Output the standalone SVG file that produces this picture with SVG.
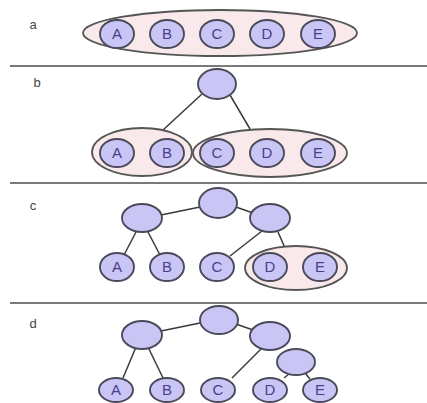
<svg xmlns="http://www.w3.org/2000/svg" width="427" height="403" viewBox="0 0 427 403">
<style>
.bg{fill:#ffffff}
.sep{stroke:#7a7a7a;stroke-width:2}
.lab{font-family:"Liberation Sans",Arial,sans-serif;font-size:13px;fill:#444444;text-anchor:middle}
.grp{fill:#f9e9ea;stroke:#555555;stroke-width:1.8}
.node{fill:#c9c6f6;stroke:#4a4a5a;stroke-width:1.9}
.txt{font-family:"Liberation Sans",Arial,sans-serif;font-size:15px;fill:#4a3f8a;text-anchor:middle}
.edge{stroke:#3a3a3a;stroke-width:1.5;fill:none}
</style>
<rect class="bg" x="0" y="0" width="427" height="403"/>
<g id="separators">
<line class="sep" x1="10" y1="66" x2="427" y2="66"/>
<line class="sep" x1="10" y1="183" x2="427" y2="183"/>
<line class="sep" x1="10" y1="303" x2="427" y2="303"/>
</g>
<g id="labels">
<text class="lab" x="33" y="29">a</text>
<text class="lab" x="37" y="87">b</text>
<text class="lab" x="33" y="210">c</text>
<text class="lab" x="33" y="328">d</text>
</g>
<g id="connectors">
<line class="edge" x1="202" y1="94" x2="163" y2="130"/>
<line class="edge" x1="230" y1="95" x2="250" y2="129"/>
<line class="edge" x1="161" y1="215" x2="200" y2="207"/>
<line class="edge" x1="236" y1="207" x2="253" y2="213"/>
<line class="edge" x1="136" y1="232" x2="124" y2="255"/>
<line class="edge" x1="148" y1="232" x2="160" y2="255"/>
<line class="edge" x1="262" y1="231" x2="230" y2="256"/>
<line class="edge" x1="278" y1="232" x2="285" y2="248"/>
<line class="edge" x1="161" y1="331" x2="200" y2="323"/>
<line class="edge" x1="236" y1="324" x2="253" y2="330"/>
<line class="edge" x1="136" y1="347" x2="123" y2="378"/>
<line class="edge" x1="148" y1="347" x2="163" y2="378"/>
<line class="edge" x1="262" y1="348" x2="232" y2="378"/>
<line class="edge" x1="289" y1="374" x2="284" y2="378"/>
<line class="edge" x1="305" y1="373" x2="310" y2="379"/>
</g>
<g id="panel-a">
<g id="a-group"><ellipse class="grp" cx="220" cy="33" rx="137" ry="23"/></g>
<g id="a-A"><ellipse class="node" cx="117" cy="34" rx="17" ry="14"/><text class="txt" x="117" y="39">A</text></g>
<g id="a-B"><ellipse class="node" cx="167" cy="34" rx="17" ry="14"/><text class="txt" x="167" y="39">B</text></g>
<g id="a-C"><ellipse class="node" cx="217" cy="34" rx="17" ry="14"/><text class="txt" x="217" y="39">C</text></g>
<g id="a-D"><ellipse class="node" cx="267" cy="34" rx="17" ry="14"/><text class="txt" x="267" y="39">D</text></g>
<g id="a-E"><ellipse class="node" cx="318" cy="34" rx="17" ry="14"/><text class="txt" x="318" y="39">E</text></g>
</g>
<g id="panel-b">
<g id="b-root"><ellipse class="node" cx="217" cy="84" rx="19" ry="15"/></g>
<g id="b-groupAB"><ellipse class="grp" cx="142" cy="152" rx="50" ry="24"/></g>
<g id="b-groupCDE"><ellipse class="grp" cx="270" cy="153" rx="77" ry="24"/></g>
<g id="b-A"><ellipse class="node" cx="117" cy="153" rx="17" ry="14"/><text class="txt" x="117" y="158">A</text></g>
<g id="b-B"><ellipse class="node" cx="167" cy="153" rx="17" ry="14"/><text class="txt" x="167" y="158">B</text></g>
<g id="b-C"><ellipse class="node" cx="217" cy="153" rx="17" ry="14"/><text class="txt" x="217" y="158">C</text></g>
<g id="b-D"><ellipse class="node" cx="267" cy="153" rx="17" ry="14"/><text class="txt" x="267" y="158">D</text></g>
<g id="b-E"><ellipse class="node" cx="318" cy="153" rx="17" ry="14"/><text class="txt" x="318" y="158">E</text></g>
</g>
<g id="panel-c">
<g id="c-root"><ellipse class="node" cx="218" cy="203" rx="19" ry="15"/></g>
<g id="c-left"><ellipse class="node" cx="142" cy="218" rx="20" ry="14"/></g>
<g id="c-right"><ellipse class="node" cx="270" cy="218" rx="20" ry="14"/></g>
<g id="c-groupDE"><ellipse class="grp" cx="296" cy="268" rx="51" ry="22"/></g>
<g id="c-A"><ellipse class="node" cx="117" cy="267" rx="17" ry="14"/><text class="txt" x="117" y="272">A</text></g>
<g id="c-B"><ellipse class="node" cx="167" cy="267" rx="17" ry="14"/><text class="txt" x="167" y="272">B</text></g>
<g id="c-C"><ellipse class="node" cx="217" cy="267" rx="17" ry="14"/><text class="txt" x="217" y="272">C</text></g>
<g id="c-D"><ellipse class="node" cx="270" cy="267" rx="17" ry="14"/><text class="txt" x="270" y="272">D</text></g>
<g id="c-E"><ellipse class="node" cx="320" cy="267" rx="17" ry="14"/><text class="txt" x="320" y="272">E</text></g>
</g>
<g id="panel-d">
<g id="d-root"><ellipse class="node" cx="219" cy="320" rx="19" ry="14"/></g>
<g id="d-left"><ellipse class="node" cx="142" cy="335" rx="20" ry="14"/></g>
<g id="d-right"><ellipse class="node" cx="270" cy="336" rx="20" ry="14"/></g>
<g id="d-de"><ellipse class="node" cx="296" cy="362" rx="19" ry="13"/></g>
<g id="d-A"><ellipse class="node" cx="116" cy="390" rx="17" ry="12"/><text class="txt" x="116" y="395">A</text></g>
<g id="d-B"><ellipse class="node" cx="167" cy="390" rx="17" ry="12"/><text class="txt" x="167" y="395">B</text></g>
<g id="d-C"><ellipse class="node" cx="218" cy="390" rx="17" ry="12"/><text class="txt" x="218" y="395">C</text></g>
<g id="d-D"><ellipse class="node" cx="270" cy="390" rx="17" ry="12"/><text class="txt" x="270" y="395">D</text></g>
<g id="d-E"><ellipse class="node" cx="320" cy="390" rx="17" ry="12"/><text class="txt" x="320" y="395">E</text></g>
</g>
</svg>
